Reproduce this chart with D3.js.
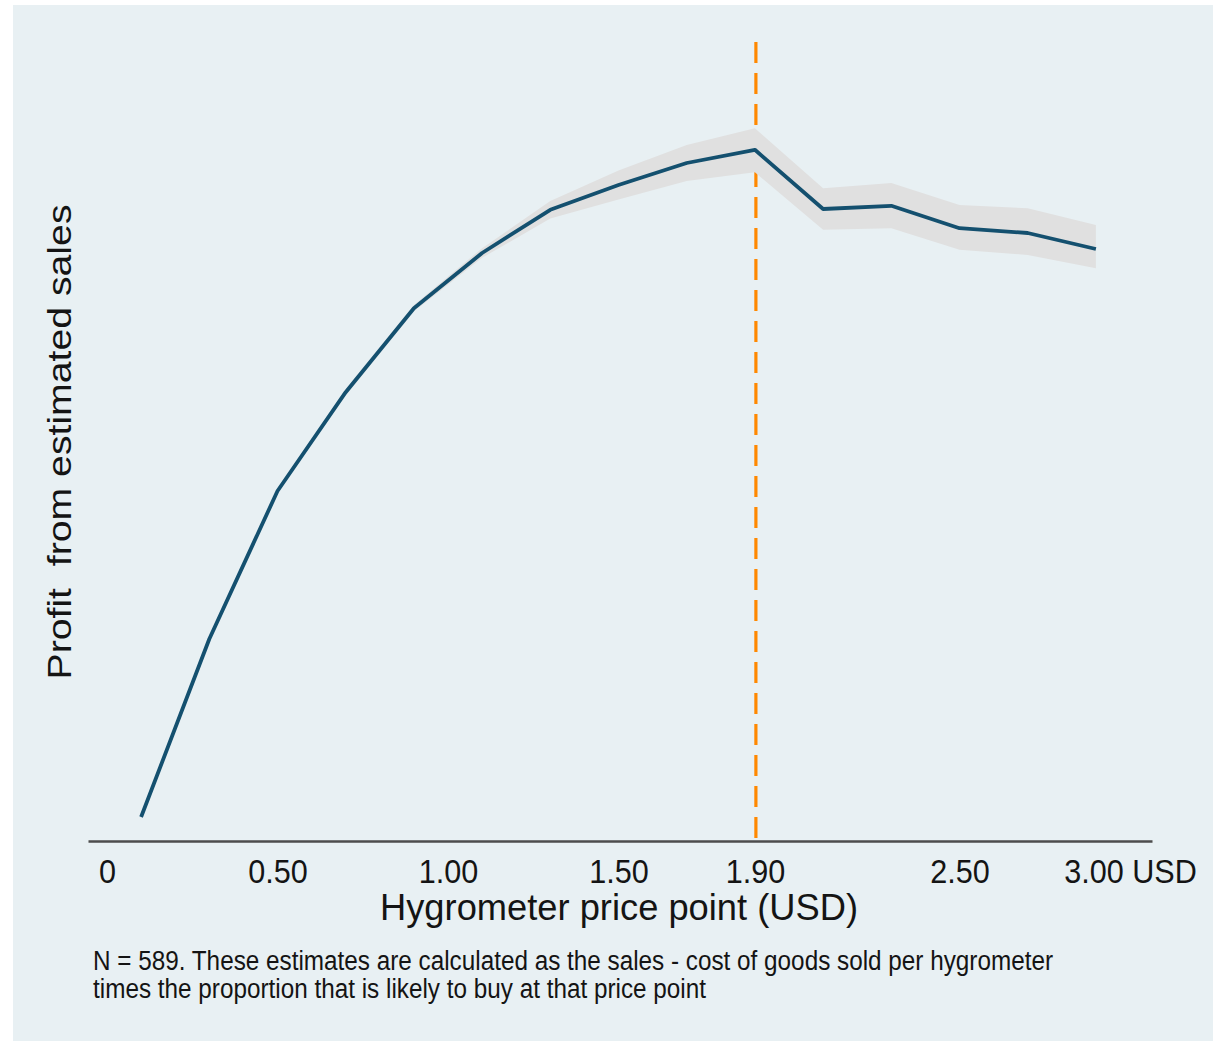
<!DOCTYPE html>
<html><head><meta charset="utf-8">
<script src="https://cdn.jsdelivr.net/npm/d3@7"></script>
<style>
body{margin:0;background:#fff}
svg{display:block}
text{font-family:"Liberation Sans",Arial,sans-serif;fill:#141414;white-space:pre}
</style>
</head><body><svg id="c" width="1213" height="1041"></svg>
<script>
// ---- data ----
const prices  = [0.1,0.3,0.5,0.7,0.9,1.1,1.3,1.5,1.7,1.9,2.1,2.3,2.5,2.7,2.9];
const profit  = [3.0,25.25,43.75,56.1,66.6,73.5,78.9,82.0,84.75,86.4,79.0,79.4,76.6,76.0,74.0];
const ciLow   = [2.9,25.1,43.5,55.7,66.2,72.9,77.8,80.2,82.5,83.6,76.4,76.6,73.9,73.25,71.6];
const ciHigh  = [3.1,25.4,44.0,56.5,67.0,74.1,80.0,83.8,87.0,89.1,81.6,82.25,79.5,79.1,77.0];
const tickValues = [0,0.5,1,1.5,1.9,2.5,3];
const tickLabels = ["0","0.50","1.00","1.50","1.90","2.50","3.00 USD"];
const optimalPrice = 1.9;
const xTitle = "Hygrometer price point (USD)";
const yTitle = "Profit  from estimated sales";
const notes = ["N = 589. These estimates are calculated as the sales - cost of goods sold per hygrometer",
               "times the proportion that is likely to buy at that price point"];

// ---- layout ----
const svg = d3.select("#c");
svg.append("rect").attr("x",13).attr("y",5).attr("width",1200).attr("height",1036).attr("fill","#e8f0f3");

const x = d3.scaleLinear().domain([-19/341, 1045/341]).range([88,1152]);
const y = d3.scaleLinear().domain([0,100]).range([841,41]);

// optimal price dashed line
svg.append("line")
  .attr("x1",x(optimalPrice)+1).attr("x2",x(optimalPrice)+1)
  .attr("y1",42).attr("y2",y(0))
  .attr("stroke","#ff8800").attr("stroke-width",3.2)
  .attr("stroke-dasharray","21,10");

// confidence band
const data = prices.map((p,i)=>({p, v:profit[i], lo:ciLow[i], hi:ciHigh[i]}));
svg.append("path").datum(data)
  .attr("fill","#e0e0e0")
  .attr("d", d3.area().x(d=>x(d.p)).y0(d=>y(d.lo)).y1(d=>y(d.hi)));

// line
svg.append("path").datum(data)
  .attr("fill","none").attr("stroke","#14506f").attr("stroke-width",3.8)
  .attr("stroke-linejoin","round")
  .attr("d", d3.line().x(d=>x(d.p)).y(d=>y(d.v)));

// x axis
const ax = svg.append("g").attr("transform",`translate(0,${y(0)})`)
  .call(d3.axisBottom(x).tickValues(tickValues).tickFormat((d,i)=>tickLabels[i]).tickSize(0).tickSizeOuter(0));
ax.select(".domain").attr("stroke","#4d4d4d").attr("stroke-width",2.6);
ax.selectAll(".tick text")
  .attr("y",42).attr("dy",0)
  .attr("transform","scale(0.9,1)")
  .style("font-size","34px").style("font-family",'"Liberation Sans",Arial,sans-serif').attr("fill","#141414");

// x title
svg.append("text").attr("x",619).attr("y",920).attr("text-anchor","middle")
  .style("font-size","37px").attr("textLength",478).attr("lengthAdjust","spacingAndGlyphs")
  .text(xTitle);

// y title
svg.append("text").attr("transform","translate(71,442) rotate(-90)").attr("text-anchor","middle")
  .style("font-size","33px").attr("textLength",475).attr("lengthAdjust","spacingAndGlyphs")
  .text(yTitle);

// notes
const noteLen = [960, 613];
notes.forEach((t,i)=>{
  svg.append("text").attr("x",93).attr("y",970+i*28)
    .style("font-size","27px").attr("textLength",noteLen[i]).attr("lengthAdjust","spacingAndGlyphs")
    .text(t);
});
</script>
</body></html>
